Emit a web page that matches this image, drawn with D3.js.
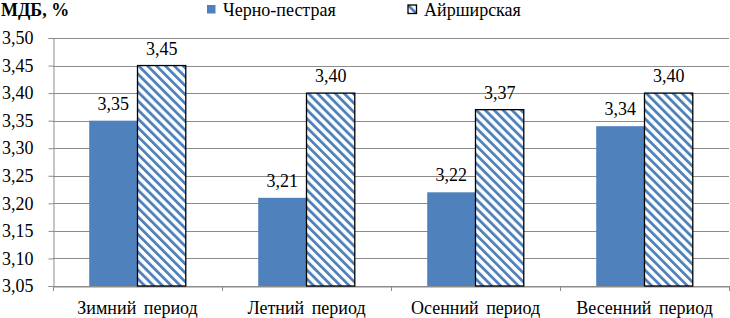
<!DOCTYPE html>
<html>
<head>
<meta charset="utf-8">
<script src="https://cdn.jsdelivr.net/npm/d3@7"></script>
<style>
  body { margin: 0; background: #fff; }
</style>
</head>
<body>
<div id="chart"></div>
<script>
// data
const periods = ["Зимний период", "Летний период", "Осенний период", "Весенний период"];
const seriesNames = ["Черно-пестрая", "Айрширская"];
const chernoPestraya = [3.35, 3.21, 3.22, 3.34];
const ayrshirskaya = [3.45, 3.40, 3.37, 3.40];
const yTicks = [3.05, 3.10, 3.15, 3.20, 3.25, 3.30, 3.35, 3.40, 3.45, 3.50];

const width = 730;
const height = 318;
const marginTop = 38;
const marginRight = 1;
const marginBottom = 32;
const marginLeft = 53;

const serif = "Liberation Serif";
const blue = "#4f81bd";
const gridColor = "#8c8c8c";
const fmt = v => d3.format(".2f")(v).replace(".", ",");

const svg = d3.select("#chart").append("svg")
    .attr("width", width)
    .attr("height", height);

// hatch pattern for second series (diagonal stripes, top-left to bottom-right)
const hatch = 6.3;
const defs = svg.append("defs");
const pat = defs.append("pattern")
    .attr("id", "hatch")
    .attr("patternUnits", "userSpaceOnUse")
    .attr("width", hatch)
    .attr("height", hatch)
    .attr("patternTransform", "rotate(-45)");
pat.append("rect").attr("width", hatch).attr("height", hatch).attr("fill", "#fff");
pat.append("rect").attr("x", 0).attr("width", 2.8).attr("height", hatch).attr("fill", blue);

const x = d3.scaleBand(periods, [marginLeft, width - marginRight]);
const xInner = d3.scaleBand(seriesNames, [0, x.bandwidth()]).paddingOuter(0.75).paddingInner(0);
const y = d3.scaleLinear([3.05, 3.50], [height - marginBottom, marginTop]);

// grid lines
svg.append("g")
  .selectAll("line")
  .data(yTicks)
  .join("line")
    .attr("x1", marginLeft)
    .attr("x2", width - marginRight)
    .attr("y1", d => Math.round(y(d)) + 0.5)
    .attr("y2", d => Math.round(y(d)) + 0.5)
    .attr("stroke", gridColor)
    .attr("stroke-width", 1);

// y axis
const yAxis = svg.append("g")
    .attr("transform", `translate(${marginLeft + 0.5},0)`)
    .call(d3.axisLeft(y).tickValues(yTicks).tickFormat(fmt).tickSize(5).tickPadding(15));
yAxis.select(".domain").attr("stroke", gridColor);
yAxis.selectAll(".tick line").attr("stroke", gridColor);
yAxis.selectAll(".tick text")
    .style("font-family", serif)
    .style("font-size", "18px")
    .attr("fill", "#000");

// x axis
const xAxis = svg.append("g")
    .attr("transform", `translate(0,${Math.round(y(3.05)) + 0.5})`)
    .call(d3.axisBottom(x).tickSize(0).tickPadding(12));
xAxis.select(".domain").attr("stroke", gridColor);
xAxis.selectAll(".tick text")
    .style("font-family", serif)
    .style("font-size", "18px")
    .style("word-spacing", "3px")
    .attr("fill", "#000")
    .attr("dy", "0.85em");
// category separators
svg.append("g")
  .selectAll("line")
  .data(periods.concat(["end"]))
  .join("line")
    .attr("x1", (d, i) => Math.round(marginLeft + i * x.step()) + 0.5)
    .attr("x2", (d, i) => Math.round(marginLeft + i * x.step()) + 0.5)
    .attr("y1", y(3.05))
    .attr("y2", y(3.05) + 5)
    .attr("stroke", gridColor);

const rows = periods.map((p, i) => ({ period: p, values: [chernoPestraya[i], ayrshirskaya[i]] }));

const groups = svg.append("g")
  .selectAll("g")
  .data(rows)
  .join("g")
    .attr("transform", d => `translate(${x(d.period)},0)`);

groups.selectAll("rect")
  .data(d => d.values.map((v, j) => ({ name: seriesNames[j], value: v })))
  .join("rect")
    .attr("x", d => xInner(d.name))
    .attr("y", d => y(d.value))
    .attr("width", xInner.bandwidth())
    .attr("height", d => y(3.05) - y(d.value))
    .attr("fill", (d, j) => j === 0 ? blue : "url(#hatch)")
    .attr("stroke", (d, j) => j === 0 ? "none" : "#000")
    .attr("stroke-width", 1.3);

groups.selectAll("text")
  .data(d => d.values.map((v, j) => ({ name: seriesNames[j], value: v })))
  .join("text")
    .attr("x", d => xInner(d.name) + xInner.bandwidth() / 2)
    .attr("y", d => y(d.value) - 11)
    .attr("text-anchor", "middle")
    .style("font-family", serif)
    .style("font-size", "18px")
    .text(d => fmt(d.value));

// y title
svg.append("text")
    .attr("x", 1)
    .attr("y", 16)
    .style("font-family", serif)
    .style("font-size", "18px")
    .style("font-weight", "bold")
    .text("МДБ, %");

// legend
const legendX = [207, 408];
const legend = svg.append("g");
legend.selectAll("rect")
  .data(seriesNames)
  .join("rect")
    .attr("x", (d, i) => legendX[i])
    .attr("y", 5)
    .attr("width", 8.5)
    .attr("height", 8.5)
    .attr("fill", (d, i) => i === 0 ? blue : "url(#hatch)")
    .attr("stroke", (d, i) => i === 0 ? "none" : "#000")
    .attr("stroke-width", 1.3);
legend.selectAll("text")
  .data(seriesNames)
  .join("text")
    .attr("x", (d, i) => legendX[i] + 16)
    .attr("y", 16)
    .style("font-family", serif)
    .style("font-size", "18px")
    .text(d => d);
</script>
</body>
</html>
